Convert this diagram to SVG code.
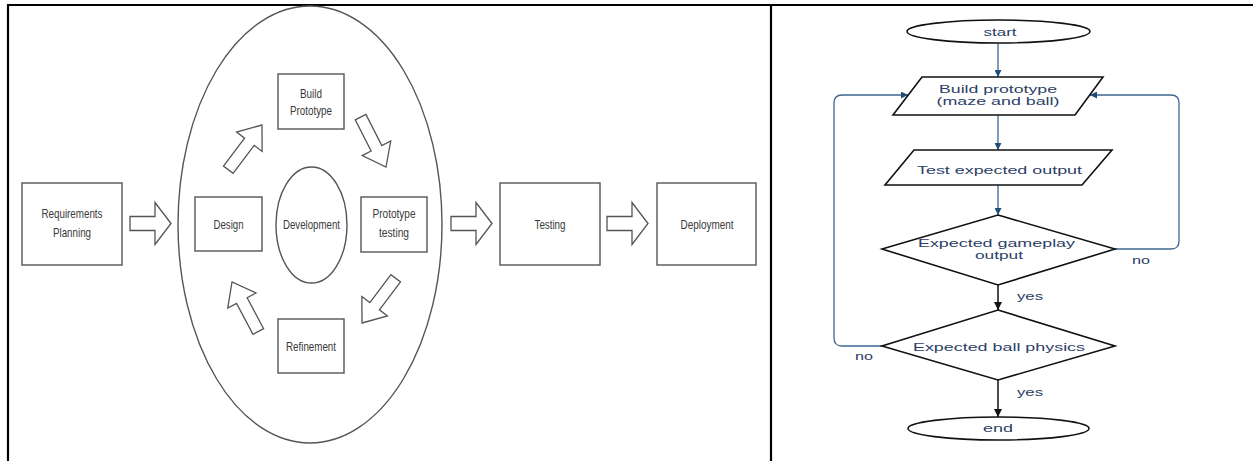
<svg xmlns="http://www.w3.org/2000/svg" width="1253" height="461" viewBox="0 0 1253 461">
<defs>
<style>
.frame{stroke:#000;stroke-width:2.2;fill:none}
.box{fill:#fff;stroke:#555;stroke-width:1.4}
.blk{fill:#fff;stroke:#555;stroke-width:1.3;stroke-linejoin:miter}
.lt{font-family:"Liberation Sans",Arial,sans-serif;font-size:13px;fill:#3a3a3a;text-anchor:middle}
.fs{fill:#fff;stroke:#111;stroke-width:1.6}
.ft{font-family:"Liberation Sans",Arial,sans-serif;font-size:11.5px;fill:#2b4066;text-anchor:middle}
.bl{fill:none;stroke:#3d6790;stroke-width:1.3}
.bk{fill:none;stroke:#111;stroke-width:1.5}
</style>
<polygon id="harrow" points="0,0 -16,-21 -16,-7 -41,-7 -41,7 -16,7 -16,21"/>
<polygon id="darrow" points="0,0 -21,-16 -21,-6 -56,-6 -56,6 -21,6 -21,16"/>
<marker id="mb" viewBox="0 0 10 10" refX="10" refY="5" markerWidth="7" markerHeight="7" markerUnits="userSpaceOnUse" orient="auto"><path d="M0,0 L10,5 L0,10 Z" fill="#1f4e79"/></marker>
<marker id="mk" viewBox="0 0 10 10" refX="10" refY="5" markerWidth="8" markerHeight="8" markerUnits="userSpaceOnUse" orient="auto"><path d="M0,0 L10,5 L0,10 Z" fill="#111"/></marker>
</defs>
<rect width="1253" height="461" fill="#fff"/>
<g id="table">
<line class="frame" x1="8" y1="5" x2="1253" y2="5"/>
<line class="frame" x1="8" y1="4" x2="8" y2="461"/>
<line class="frame" x1="771" y1="5" x2="771" y2="461"/>
</g>

<g id="left-nodes">
<g id="outer-ellipse"><ellipse class="box" cx="310" cy="224.5" rx="132" ry="218.5"/></g>
<g id="requirements"><rect class="box" x="22" y="183" width="100" height="82"/>
<text class="lt" x="72" y="218" textLength="61" lengthAdjust="spacingAndGlyphs">Requirements</text>
<text class="lt" x="72" y="237" textLength="38" lengthAdjust="spacingAndGlyphs">Planning</text></g>
<g id="design"><rect class="box" x="195" y="197" width="67" height="54"/>
<text class="lt" x="228.5" y="229" textLength="30" lengthAdjust="spacingAndGlyphs">Design</text></g>
<g id="development"><ellipse class="box" cx="311.5" cy="225" rx="35.5" ry="58"/>
<text class="lt" x="311.5" y="229" textLength="57" lengthAdjust="spacingAndGlyphs">Development</text></g>
<g id="build-prototype"><rect class="box" x="278" y="74" width="66" height="55"/>
<text class="lt" x="311" y="98" textLength="22" lengthAdjust="spacingAndGlyphs">Build</text>
<text class="lt" x="311" y="115" textLength="42" lengthAdjust="spacingAndGlyphs">Prototype</text></g>
<g id="prototype-testing"><rect class="box" x="361" y="197" width="66" height="55"/>
<text class="lt" x="394" y="218" textLength="43" lengthAdjust="spacingAndGlyphs">Prototype</text>
<text class="lt" x="394" y="237" textLength="30" lengthAdjust="spacingAndGlyphs">testing</text></g>
<g id="refinement"><rect class="box" x="278" y="319" width="66" height="54"/>
<text class="lt" x="311" y="351" textLength="50" lengthAdjust="spacingAndGlyphs">Refinement</text></g>
<g id="testing"><rect class="box" x="500" y="183" width="100" height="82"/>
<text class="lt" x="550" y="229" textLength="31" lengthAdjust="spacingAndGlyphs">Testing</text></g>
<g id="deployment"><rect class="box" x="657" y="183" width="99" height="82"/>
<text class="lt" x="707" y="229" textLength="53" lengthAdjust="spacingAndGlyphs">Deployment</text></g>
</g>

<g id="left-connectors">
<use href="#harrow" class="blk" transform="translate(171,223.5)"/>
<use href="#harrow" class="blk" transform="translate(492,223.5)"/>
<use href="#harrow" class="blk" transform="translate(648,223.5)"/>
<use href="#darrow" class="blk" transform="translate(262,125) rotate(-53)"/>
<use href="#darrow" class="blk" transform="translate(386,167) rotate(63)"/>
<use href="#darrow" class="blk" transform="translate(362,323) rotate(127)"/>
<use href="#darrow" class="blk" transform="translate(232,282) rotate(-118)"/>
</g>

<g id="flow-connectors">
<line class="bl" x1="998" y1="43" x2="998" y2="77" marker-end="url(#mb)"/>
<line class="bl" x1="998" y1="115" x2="998" y2="150" marker-end="url(#mb)"/>
<line class="bl" x1="998" y1="185" x2="998" y2="215" marker-end="url(#mb)"/>
<line class="bk" x1="998" y1="285" x2="998" y2="310" marker-end="url(#mk)"/>
<line class="bk" x1="998" y1="380" x2="998" y2="417" marker-end="url(#mk)"/>
<path class="bl" d="M1115,249 H1171 Q1179,249 1179,241 V103 Q1179,95 1171,95 H1090" marker-end="url(#mb)"/>
<path class="bl" d="M882,346 H842 Q834,346 834,338 V103 Q834,95 842,95 H908" marker-end="url(#mb)"/>
<text class="ft" x="1141" y="264" textLength="18" lengthAdjust="spacingAndGlyphs">no</text>
<text class="ft" x="864" y="360" textLength="18" lengthAdjust="spacingAndGlyphs">no</text>
<text class="ft" x="1030" y="300" textLength="26" lengthAdjust="spacingAndGlyphs">yes</text>
<text class="ft" x="1030" y="396" textLength="26" lengthAdjust="spacingAndGlyphs">yes</text>
</g>

<g id="flow-nodes">
<g id="start"><ellipse class="fs" cx="998.5" cy="31.5" rx="91.5" ry="11.5"/>
<text class="ft" x="1000" y="35.5" textLength="33" lengthAdjust="spacingAndGlyphs">start</text></g>
<g id="build"><polygon class="fs" points="922,77 1103,77 1075,115 893,115"/>
<text class="ft" x="998" y="93" textLength="118" lengthAdjust="spacingAndGlyphs">Build prototype</text>
<text class="ft" x="998" y="105" textLength="123" lengthAdjust="spacingAndGlyphs">(maze and ball)</text></g>
<g id="test"><polygon class="fs" points="914,150 1112,150 1082,185 885,185"/>
<text class="ft" x="999.5" y="174" textLength="165" lengthAdjust="spacingAndGlyphs">Test expected output</text></g>
<g id="decision1"><polygon class="fs" points="998,215 1115,249 998,285 882,249"/>
<text class="ft" x="996.5" y="247" textLength="157" lengthAdjust="spacingAndGlyphs">Expected gameplay</text>
<text class="ft" x="999" y="259" textLength="48" lengthAdjust="spacingAndGlyphs">output</text></g>
<g id="decision2"><polygon class="fs" points="998,310 1115,346 998,380 882,346"/>
<text class="ft" x="999" y="350.5" textLength="172" lengthAdjust="spacingAndGlyphs">Expected ball physics</text></g>
<g id="end"><ellipse class="fs" cx="998.5" cy="428.5" rx="90.5" ry="11.5"/>
<text class="ft" x="998" y="432" textLength="30" lengthAdjust="spacingAndGlyphs">end</text></g>
</g>
</svg>
